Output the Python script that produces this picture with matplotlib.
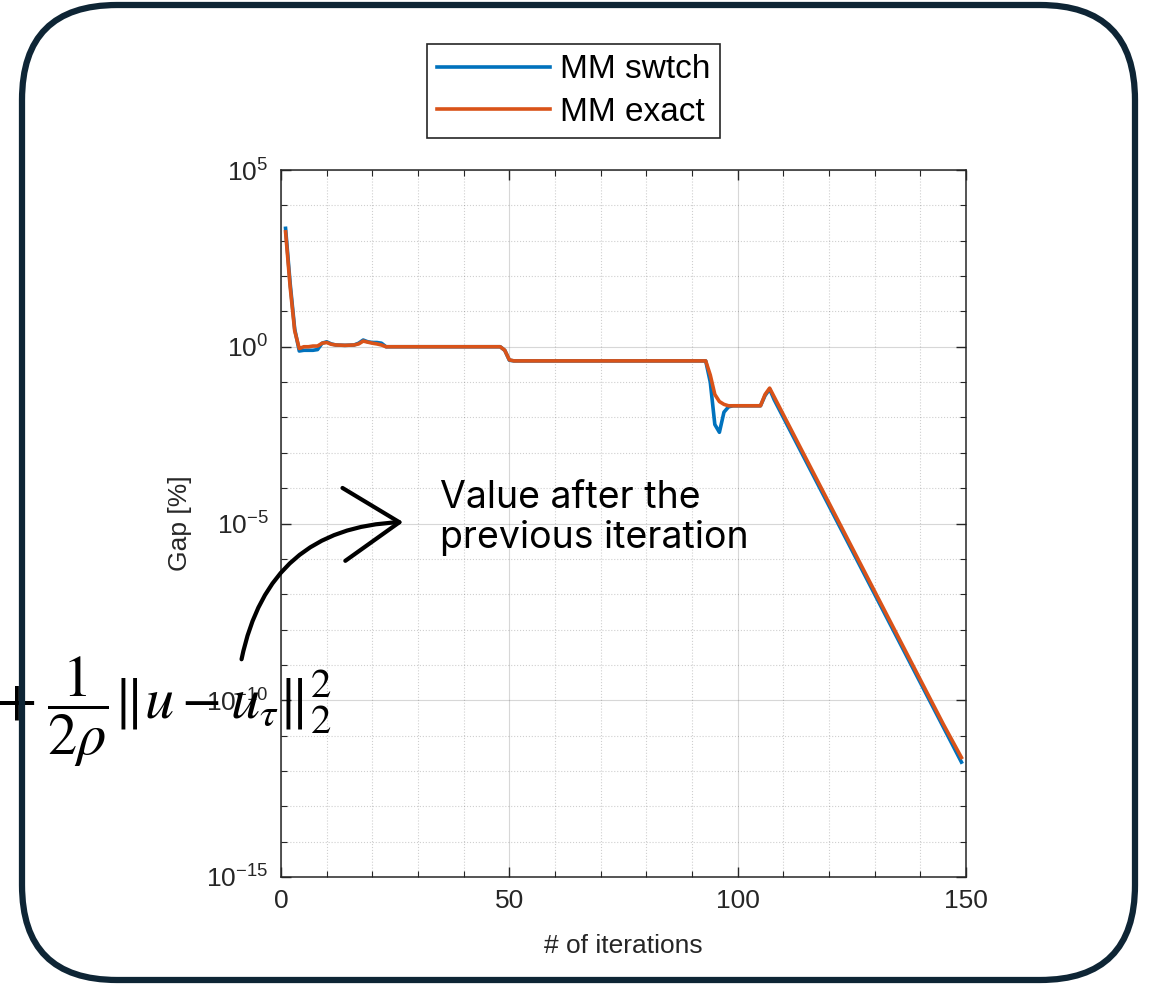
import numpy as np
import matplotlib
matplotlib.use("Agg")
import matplotlib.pyplot as plt
from matplotlib.patches import FancyBboxPatch, FancyArrowPatch
from matplotlib.ticker import FixedLocator, LogFormatterSciNotation, NullFormatter

# iterations (x) and gap values, as log10 exponents
iters = [1, 2, 3, 4, 5, 6, 7, 8, 9, 10, 11, 12, 14, 16, 17, 18, 19, 20, 21, 22, 23,
         24, 30, 40, 48, 49, 50, 51, 60, 70, 80, 90, 93, 94, 95, 96, 97, 98, 99,
         100, 103, 105, 106, 107, 108, 110, 115, 120, 125, 130, 135, 140, 145, 149]

swtch_exp = [3.35, 1.8, 0.5, -0.12, -0.1, -0.1, -0.1, -0.08, 0.1, 0.14, 0.08, 0.05, 0.04,
             0.05, 0.1, 0.19, 0.14, 0.12, 0.12, 0.1, 0.0,
             0.0, 0.0, 0.0, 0.0, -0.1, -0.38, -0.4, -0.4, -0.4, -0.4, -0.4, -0.4, -1.0,
             -2.2, -2.42, -1.85, -1.7, -1.67,
             -1.67, -1.67, -1.67, -1.38, -1.2, -1.5, -2.0, -3.25, -4.5, -5.75, -7.0,
             -8.25, -9.5, -10.75, -11.75]

exact_exp = [3.25, 1.7, 0.45, -0.05, 0.0, 0.0, 0.02, 0.02, 0.1, 0.12, 0.07, 0.05, 0.04,
             0.05, 0.08, 0.16, 0.13, 0.1, 0.08, 0.05, 0.0,
             0.0, 0.0, 0.0, 0.0, -0.1, -0.37, -0.4, -0.4, -0.4, -0.4, -0.4, -0.4, -0.8,
             -1.35, -1.55, -1.63, -1.67, -1.67,
             -1.67, -1.67, -1.67, -1.35, -1.17, -1.42, -1.92, -3.17, -4.42, -5.67, -6.92,
             -8.17, -9.42, -10.67, -11.62]

swtch = 10.0 ** np.array(swtch_exp)
exact = 10.0 ** np.array(exact_exp)

plt.rcParams["axes.unicode_minus"] = False
plt.rcParams["mathtext.fontset"] = "stix"
plt.rcParams["mathtext.default"] = "it"

W, H = 1150, 985
fig = plt.figure(figsize=(W / 100, H / 100), dpi=100)
fig.patch.set_facecolor("white")

ax = fig.add_axes([281 / W, 1 - 877 / H, (966 - 281) / W, (877 - 170) / H])
ax.plot(iters, swtch, color="#0072BD", lw=2.6, label="MM swtch")
ax.plot(iters, exact, color="#D95319", lw=2.6, label="MM exact")
ax.set_yscale("log")
ax.set_xlim(0, 150)
ax.set_ylim(1e-15, 1e5)

ax.yaxis.set_major_locator(FixedLocator([1e-15, 1e-10, 1e-5, 1e0, 1e5]))
ax.yaxis.set_major_formatter(LogFormatterSciNotation())
ax.yaxis.set_minor_locator(FixedLocator([10.0 ** k for k in range(-15, 6)]))
ax.yaxis.set_minor_formatter(NullFormatter())
ax.set_xticks([0, 50, 100, 150])
ax.set_xticks(list(range(0, 151, 10)), minor=True)

ax.grid(True, which="major", color="#262626", alpha=0.18, lw=0.8, ls="-")
ax.grid(True, which="minor", color="#262626", alpha=0.22, lw=0.8, ls=":")
ax.set_axisbelow(True)

txt_col = "#262626"
ax.tick_params(which="both", direction="in", top=True, right=True, colors=txt_col,
               labelsize=19)
ax.tick_params(which="major", length=7, width=1, pad=9)
ax.tick_params(which="minor", length=4, width=0.8)
for s in ax.spines.values():
    s.set_color(txt_col)
    s.set_linewidth(1.1)
for lab in ax.get_xticklabels() + ax.get_yticklabels():
    lab.set_family("Liberation Sans")

ax.set_xlabel("# of iterations", fontsize=19, color=txt_col, family="Liberation Sans",
              labelpad=15)
ax.set_ylabel("Gap [%]", fontsize=19, color=txt_col, family="Liberation Sans",
              labelpad=10)

leg = fig.legend(loc="center", bbox_to_anchor=(573.5 / W, 1 - 91 / H),
                 prop={"family": "Liberation Sans", "size": 24}, fancybox=False,
                 edgecolor="#262626", framealpha=1, handlelength=3.4,
                 handletextpad=0.3, borderpad=0.3, labelspacing=0.35,
                 borderaxespad=0)
leg.get_frame().set_linewidth(1.2)

# annotation text and curved arrow
fig.text(440 / W, 1 - 480 / H, "Value after the\nprevious iteration", fontsize=27,
         family="Inter", color="black", ha="left", va="top", linespacing=1.15)

arrow = FancyArrowPatch((241 / W, 1 - 662 / H), (406 / W, 1 - 522 / H),
                        transform=fig.transFigure,
                        connectionstyle="arc3,rad=-0.4",
                        arrowstyle="->,head_length=1.6,head_width=1.05",
                        mutation_scale=25, lw=3, color="black")
fig.add_artist(arrow)

# formula cropped at the left edge
fig.text(-4 / W, 1 - 712 / H, r"$+\;\dfrac{1}{2\rho}\|u-u_\tau\|_2^2$", fontsize=42,
         ha="left", va="center", color="black")

# rounded slide frame
frame = FancyBboxPatch((0.22, 0.05), 11.13, 9.75, transform=fig.dpi_scale_trans,
                       boxstyle="round,pad=0,rounding_size=0.95",
                       facecolor="none", edgecolor="#0e2535", lw=4.5, zorder=10)
fig.add_artist(frame)

fig.savefig("out.png", dpi=100, facecolor="white")
